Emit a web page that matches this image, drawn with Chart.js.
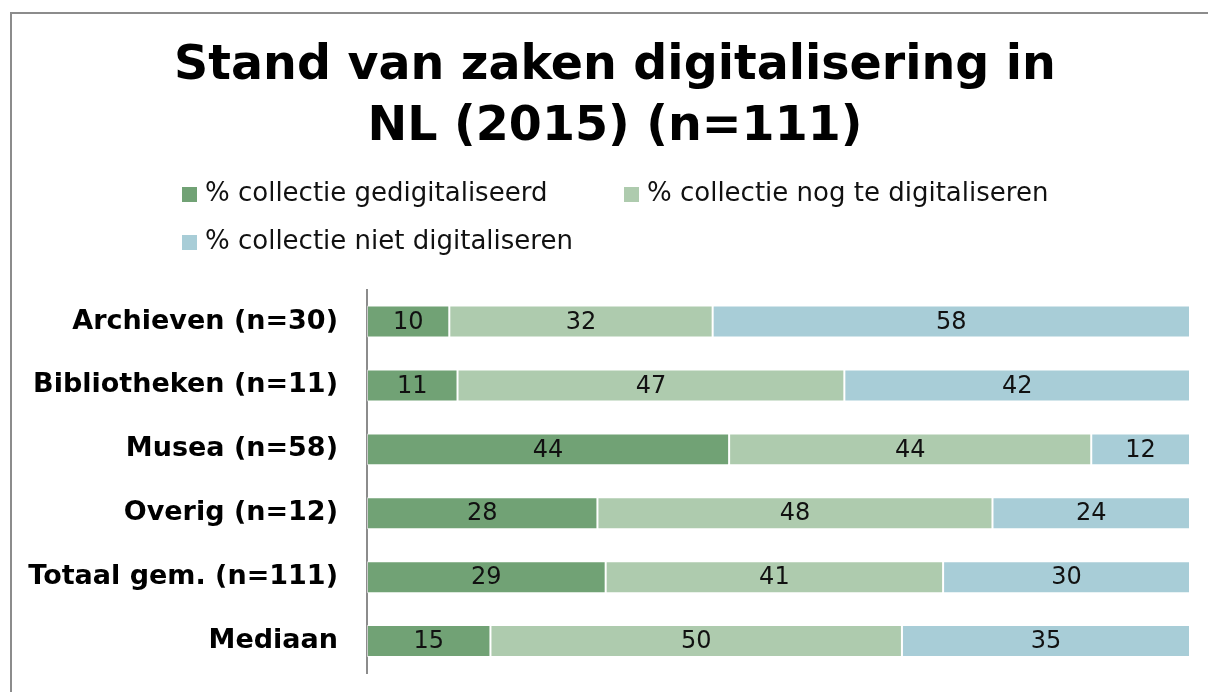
<!DOCTYPE html>
<html lang="nl">
<head>
<meta charset="UTF-8">
<title>Stand van zaken digitalisering in NL</title>
<script src="https://cdn.jsdelivr.net/npm/chart.js"></script>
<style>
    body {
        margin: 0;
        background: #fff;
    }

    .frame {
        position: absolute;
        left: 10px;
        top: 12px;
        width: 1300px;
        height: 800px;
        border: 2px solid #8c8c8c;
    }

    #chart {
        position: absolute;
        left: 0;
        top: 0;
    }
</style>
</head>
<body>

<div class="frame"></div>
<canvas id="chart" width="1208" height="692"></canvas>

<script>
    const categories = ['Archieven (n=30)', 'Bibliotheken (n=11)', 'Musea (n=58)',
                        'Overig (n=12)', 'Totaal gem. (n=111)', 'Mediaan'];
    const gedigitaliseerd = [10, 11, 44, 28, 29, 15];
    const nogTeDigitaliseren = [32, 47, 44, 48, 41, 50];
    const nietDigitaliseren = [58, 42, 12, 24, 30, 35];
    const seriesNames = ['% collectie gedigitaliseerd', '% collectie nog te digitaliseren',
                         '% collectie niet digitaliseren'];
    const seriesColors = ['#71a275', '#aecbae', '#a8cdd7'];

    Chart.defaults.font.family = '"DejaVu Sans", Verdana, sans-serif';
    Chart.defaults.color = '#000';

    // value in the middle of each bar segment
    const valueLabels = {
        id: 'valueLabels',
        afterDatasetsDraw(chart) {
            const ctx = chart.ctx;
            ctx.save();
            ctx.font = '24px "DejaVu Sans", Verdana, sans-serif';
            ctx.fillStyle = '#111';
            ctx.textAlign = 'center';
            ctx.textBaseline = 'middle';
            chart.data.datasets.forEach(function(ds, i) {
                chart.getDatasetMeta(i).data.forEach(function(bar, j) {
                    const p = bar.getProps(['x', 'y', 'base'], true);
                    ctx.fillText(ds.data[j], (p.x + p.base) / 2, p.y + 1);
                });
            });
            ctx.restore();
        }
    };

    // legend laid out in two columns like the original
    const gridLegend = {
        id: 'gridLegend',
        afterLayout(chart) {
            // title sits a bit right of the canvas centre in the original
            chart.titleBlock.left += 15;
            chart.titleBlock.right += 15;
        },
        afterDraw(chart) {
            const ctx = chart.ctx;
            const colX = [182, 624];
            const rowY = [194, 242];
            ctx.save();
            ctx.font = '26px "DejaVu Sans", Verdana, sans-serif';
            ctx.textBaseline = 'middle';
            ctx.textAlign = 'left';
            chart.data.datasets.forEach(function(ds, i) {
                const x = colX[i % 2];
                const y = rowY[Math.floor(i / 2)];
                ctx.fillStyle = ds.backgroundColor;
                ctx.fillRect(x, y - 7, 15, 15);
                ctx.fillStyle = '#111';
                ctx.fillText(ds.label, x + 23, y);
            });
            ctx.restore();
        }
    };

    const datasets = [gedigitaliseerd, nogTeDigitaliseren, nietDigitaliseren].map(function(values, i) {
        return {
            label: seriesNames[i],
            data: values,
            backgroundColor: seriesColors[i],
            borderColor: 'rgba(255, 255, 255, 0.55)',
            borderWidth: 1,
            borderSkipped: false,
            barPercentage: 0.5,
            categoryPercentage: 1
        };
    });

    new Chart(document.getElementById('chart'), {
        type: 'bar',
        data: {
            labels: categories,
            datasets: datasets
        },
        options: {
            responsive: false,
            animation: false,
            indexAxis: 'y',
            layout: {
                padding: { left: 10, right: 18, top: 0, bottom: 19 }
            },
            plugins: {
                legend: { display: false },
                tooltip: { enabled: false },
                title: {
                    display: true,
                    text: ['Stand van zaken digitalisering in', 'NL (2015) (n=111)'],
                    color: '#000',
                    font: { size: 47.5, weight: 'bold', lineHeight: 1.28 },
                    padding: { top: 36, bottom: 132 }
                }
            },
            scales: {
                x: {
                    display: false,
                    stacked: true,
                    min: 0,
                    max: 100
                },
                y: {
                    stacked: true,
                    grid: { display: false, drawTicks: false },
                    border: { display: true, color: '#8c8c8c', width: 2 },
                    ticks: {
                        color: '#000',
                        padding: 29,
                        font: { size: 27, weight: 'bold' }
                    },
                    afterFit: function(scale) {
                        scale.width = 357;
                        scale.paddingTop = 0;
                        scale.paddingBottom = 0;
                    }
                }
            }
        },
        plugins: [valueLabels, gridLegend]
    });
</script>

</body>
</html>
